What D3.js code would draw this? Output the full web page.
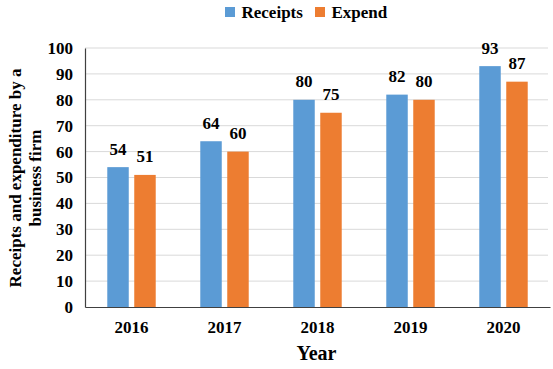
<!DOCTYPE html>
<html>
<head>
<meta charset="utf-8">
<script src="https://cdn.jsdelivr.net/npm/d3@7"></script>
<style>
  html, body { margin: 0; padding: 0; background: #fff; }
  svg { display: block; }
  text { font-family: "Liberation Serif", "Times New Roman", serif; font-weight: bold; fill: #000; }
</style>
</head>
<body>
<script>
const years = ["2016", "2017", "2018", "2019", "2020"];
const seriesNames = ["Receipts", "Expend"];
const receipts = [54, 64, 80, 82, 93];
const expend = [51, 60, 75, 80, 87];
const yTicks = [0, 10, 20, 30, 40, 50, 60, 70, 80, 90, 100];
const colors = ["#5B9BD5", "#ED7D31"];

const W = 553, H = 369;
const mLeft = 85, mRight = 550, mTop = 48, mBottom = 307;

const svg = d3.select("body").append("svg").attr("width", W).attr("height", H);

const x0 = d3.scaleBand().domain(years).range([mLeft, mRight]).padding(0);
const x1 = d3.scaleBand().domain(seriesNames).range([0, x0.bandwidth()])
  .paddingInner(0.204).paddingOuter(0.826);
const y = d3.scaleLinear().domain([0, 100]).range([mBottom, mTop]);

// gridlines
svg.append("g").selectAll("line").data(yTicks.filter(d => d > 0)).join("line")
  .attr("x1", mLeft).attr("x2", 548)
  .attr("y1", d => y(d)).attr("y2", d => y(d))
  .attr("stroke", "#D9D9D9").attr("stroke-width", 1);

// y axis
const yAxis = svg.append("g").attr("transform", `translate(${mLeft},0)`)
  .call(d3.axisLeft(y).tickValues(yTicks).tickSize(0).tickPadding(12));
yAxis.select(".domain").attr("stroke", "#404040").attr("stroke-width", 1.2);
yAxis.selectAll("text").style("font-size", "17px").style("font-family", "Liberation Serif").style("font-weight", "bold").attr("fill", "#000");

// bars
const data = years.map((yr, i) => ({ year: yr, values: [receipts[i], expend[i]] }));
const groups = svg.append("g").selectAll("g").data(data).join("g")
  .attr("transform", d => `translate(${x0(d.year)},0)`);
groups.selectAll("rect").data(d => d.values.map((v, j) => ({ name: seriesNames[j], v, j })))
  .join("rect")
  .attr("x", d => x1(d.name))
  .attr("width", x1.bandwidth())
  .attr("y", d => y(d.v))
  .attr("height", d => mBottom - y(d.v))
  .attr("fill", d => colors[d.j]);
groups.selectAll("text").data(d => d.values.map((v, j) => ({ name: seriesNames[j], v, j })))
  .join("text")
  .attr("x", d => x1(d.name) + x1.bandwidth() / 2)
  .attr("y", d => y(d.v) - 12.5)
  .attr("text-anchor", "middle")
  .style("font-size", "17px")
  .text(d => d.v);

// x axis
const xAxis = svg.append("g").attr("transform", `translate(0,${mBottom})`)
  .call(d3.axisBottom(x0).tickSize(0).tickPadding(14));
xAxis.select(".domain").attr("stroke", "#404040").attr("stroke-width", 1.2);
xAxis.selectAll("text").style("font-size", "17px").style("font-family", "Liberation Serif").style("font-weight", "bold").attr("fill", "#000");

// axis titles
svg.append("text").attr("x", 316.5).attr("y", 360).attr("text-anchor", "middle")
  .style("font-size", "20px").text("Year");
const yt = svg.append("text").attr("transform", `translate(0,178) rotate(-90)`)
  .attr("text-anchor", "middle").style("font-size", "17px");
yt.append("tspan").attr("x", 0).attr("y", 21).text("Receipts and expenditure by a");
yt.append("tspan").attr("x", 0).attr("y", 41).text("business firm");

// legend
const legendItems = [{ name: "Receipts", x: 225 }, { name: "Expend", x: 315 }];
const lg = svg.append("g").selectAll("g").data(legendItems).join("g");
lg.append("rect").attr("x", d => d.x).attr("y", 7).attr("width", 10).attr("height", 10)
  .attr("fill", (d, i) => colors[i]);
lg.append("text").attr("x", d => d.x + 16.5).attr("y", 17.5).style("font-size", "17px").text(d => d.name);
</script>
</body>
</html>
